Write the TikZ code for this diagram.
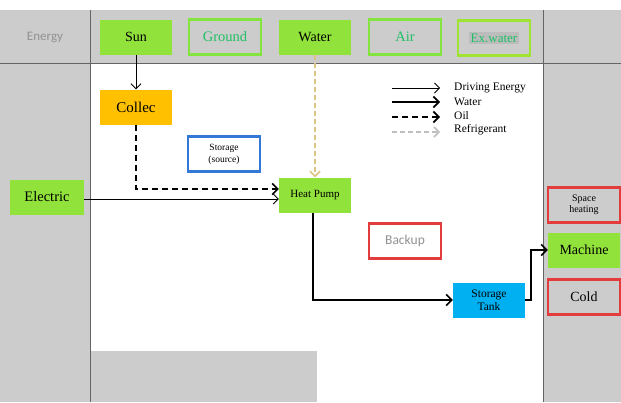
\documentclass[tikz,border=0pt]{standalone}
\usepackage{fontspec}
\setmainfont{Liberation Serif}
\newfontfamily\carl{Carlito}
\usetikzlibrary{arrows.meta}
\definecolor{bggray}{RGB}{204,204,204}
\definecolor{divgray}{RGB}{100,100,100}
\definecolor{lime}{RGB}{146,226,60}
\definecolor{limeline}{RGB}{130,228,60}
\definecolor{exline}{RGB}{160,228,50}
\definecolor{tealtext}{RGB}{30,192,100}
\definecolor{orng}{RGB}{255,192,0}
\definecolor{cyanbox}{RGB}{0,176,240}
\definecolor{redline}{RGB}{226,60,60}
\definecolor{blueline}{RGB}{50,120,212}
\definecolor{beige}{RGB}{220,196,130}
\definecolor{refgray}{RGB}{190,190,190}
\definecolor{softtext}{RGB}{145,145,145}
\definecolor{exfill}{RGB}{188,188,188}
\tikzset{
  box/.style={minimum width=72pt, minimum height=35pt, inner sep=0pt, align=center},
  gfill/.style={box, fill=lime},
  gline/.style={box, draw=limeline, line width=2.4pt, text=tealtext},
  rline/.style={box, draw=redline, line width=2.4pt},
  divline/.style={draw=divgray, line width=1pt},
  thinarrow/.style={line width=0.8pt, -{Straight Barb[length=5pt,width=10pt,line width=0.8pt]}},
  thickarrow/.style={line width=1.8pt, -{Straight Barb[length=5.5pt,width=11pt,line width=1.6pt]}},
  oilarrow/.style={thickarrow, dash pattern=on 6pt off 4pt},
  refarrow/.style={line width=1.8pt, dash pattern=on 5pt off 3pt, -{Straight Barb[length=5pt,width=10pt,line width=1.5pt]}},
  legtext/.style={anchor=west, inner sep=0pt, font=\fontsize{11.5}{12}\selectfont}
}
\begin{document}
\begin{tikzpicture}[x=1pt,y=-1pt]
\useasboundingbox (0,0) rectangle (621,402);
\fill[white] (0,0) rectangle (621,402);
\fill[bggray] (0,10) rectangle (621,63);
\fill[bggray] (0,63) rectangle (90,402);
\fill[bggray] (543,63) rectangle (621,402);
\fill[bggray] (91,351) rectangle (317,402);
\draw[divline] (0,63) -- (621,63);
\draw[divline] (90,10) -- (90,402);
\draw[divline] (543,10) -- (543,402);

% top row
\node[text=softtext, font=\carl\fontsize{13}{14}\selectfont] (energy) at (45,37) {Energy};
\node[gfill, font=\fontsize{14}{15}\selectfont] (sun) at (136,37) {Sun};
\node[gline, font=\fontsize{14.5}{15}\selectfont] (ground) at (225,37) {Ground};
\node[gfill, font=\fontsize{14}{15}\selectfont] (water) at (315,37) {Water};
\node[gline, font=\fontsize{14.5}{15}\selectfont] (air) at (405,37) {Air};
\node[box, draw=exline, line width=2.4pt] (exw) at (494,38) {};
\node[fill=exfill, text=tealtext, inner sep=2pt, font=\fontsize{13}{14}\selectfont] (exwt) at (494,38) {Ex.water};

% main
\node[box, fill=orng, font=\fontsize{15}{16}\selectfont] (collec) at (136,107) {Collec};
\node[box, draw=blueline, line width=2.4pt, font=\fontsize{9.5}{12}\selectfont] (stsrc) at (224,154) {Storage\\(source)};
\node[gfill, font=\fontsize{14.5}{15}\selectfont, minimum width=74pt] (electric) at (47,197) {Electric};
\node[gfill, font=\fontsize{11}{12}\selectfont] (hp) at (315,195) {Heat Pump};
\node[rline, text=softtext, font=\carl\fontsize{13.5}{14}\selectfont] (backup) at (405,241) {Backup};
\node[box, fill=cyanbox, font=\fontsize{11.5}{13}\selectfont] (tank) at (489,300) {Storage\\Tank};

% right column
\node[rline, font=\fontsize{10}{11.5}\selectfont] (space) at (584,205) {Space\\heating};
\node[gfill, font=\fontsize{14}{15}\selectfont] (machine) at (584,250) {Machine};
\node[rline, font=\fontsize{14}{15}\selectfont] (cold) at (584,297) {Cold};

% connectors
\draw[thinarrow] (sun) -- (collec);
\draw[oilarrow] (collec.south) |- ([yshift=6pt]hp.west);
\draw[thinarrow] (electric.east |- 0,199) -- ([yshift=-4pt]hp.west);
\draw[refarrow, draw=beige] (water) -- (hp);
\draw[thickarrow] ([xshift=-2pt]hp.south) |- (tank.west);
\draw[thickarrow] (tank.east) -- ++(6,0) |- (machine.west);

% legend
\coordinate (l1a) at (392,88); \coordinate (l1b) at (440,88);
\coordinate (l2a) at (392,102); \coordinate (l2b) at (440,102);
\coordinate (l3a) at (392,117); \coordinate (l3b) at (440,117);
\coordinate (l4a) at (392,132); \coordinate (l4b) at (440,132);
\draw[thinarrow] (l1a) -- (l1b);
\draw[thickarrow] (l2a) -- (l2b);
\draw[oilarrow] (l3a) -- (l3b);
\draw[refarrow, draw=refgray] (l4a) -- (l4b);
\node[legtext] (t1) at (454,88) {Driving Energy};
\node[legtext] (t2) at (454,102) {Water};
\node[legtext] (t3) at (454,116) {Oil};
\node[legtext] (t4) at (454,130) {Refrigerant};
\end{tikzpicture}
\end{document}
